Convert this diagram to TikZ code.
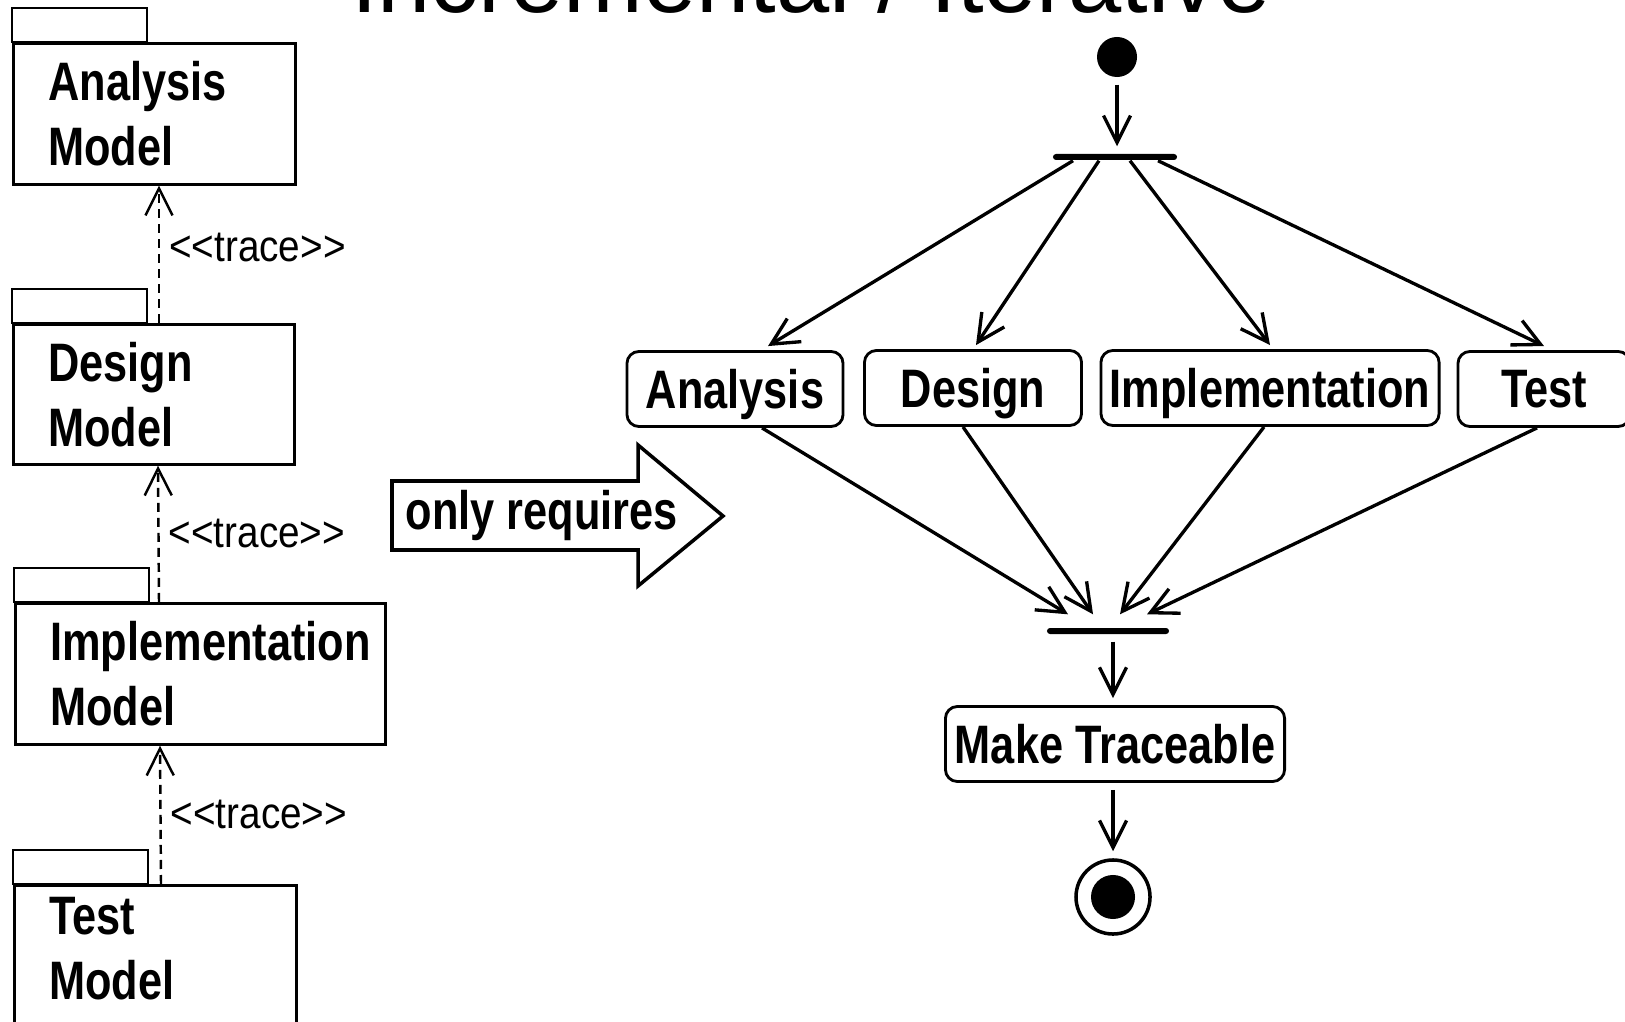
\documentclass[tikz,border=0pt]{standalone}
\usepackage{fontspec}
\setmainfont{Liberation Sans}
\newfontfamily\boxfont{Liberation Sans}[FakeStretch=0.8]
\newfontfamily\tracefont{Liberation Sans}[FakeStretch=0.88]
\usepackage{tikz}
\usetikzlibrary{arrows.meta,calc}
\newcommand{\tracelbl}{<\kern0pt<trace>\kern0pt>}

\begin{document}
\begin{tikzpicture}[x=0.01cm,y=-0.01cm,
  >={Straight Barb[length=0.27cm,width=0.27cm]},
  pkg/.style={draw,line width=0.75pt,anchor=north west,inner xsep=0.35cm,align=left,
    font={\boxfont\bfseries\fontsize{15.4}{18.5}\selectfont}},
  act/.style={draw,rounded corners=0.12cm,line width=0.8pt,minimum height=0.75cm,inner sep=0pt,
    text depth=0pt,font={\boxfont\bfseries\fontsize{15.4}{18.5}\selectfont}},
  bar/.style={fill=black,minimum height=0.06cm,inner sep=0pt,rounded corners=0.03cm},
  trace/.style={->,line width=0.7pt,dash pattern=on 0.09cm off 0.06cm},
  lbl/.style={right,inner sep=0.09cm,font={\tracefont\fontsize{12.5}{14}\selectfont}},
  flow/.style={->,line width=0.95pt},
  gap/.style={shorten <=0.07cm,shorten >=0.07cm}]
\useasboundingbox (0,0) rectangle (1625,1022);
\clip (0,0) rectangle (1625,1022);

\node[anchor=base,font={\fontsize{27.2}{30}\selectfont}] (title) at (811,13) {Incremental / Iterative};

% packages
\node[pkg,text width=2.12cm,minimum height=1.41cm] (anaM) at (12,42) {Analysis\\Model};
\node[pkg,text width=2.11cm,minimum height=1.40cm] (desM) at (12,323) {Design\\Model};
\node[pkg,text width=3.00cm,minimum height=1.41cm] (impM) at (14,602) {Implementation\\Model};
\node[pkg,text width=2.12cm,text depth=1.1cm] (tstM) at (13,884) {Test\\Model};
\foreach \p in {anaM,desM,impM,tstM}
  \draw[line width=0.75pt] (\p.north west) rectangle ++(135,-34);
\draw[trace] ($(desM.north west)+(147,0)$) -- ($(anaM.south west)+(147,0)$) node[lbl,pos=0.55] {\tracelbl};
\draw[trace] ($(impM.north west)+(145,0)$) -- ($(desM.south west)+(146,0)$) node[lbl,midway] {\tracelbl};
\draw[trace] ($(tstM.north west)+(148,0)$) -- ($(impM.south west)+(146,0)$) node[lbl,midway] {\tracelbl};

% block arrow
\node[anchor=base west,inner sep=0pt,font={\boxfont\bfseries\fontsize{15.4}{18.5}\selectfont}] (req) at (405,530) {only requires};
\draw[line width=1pt] (392,481) -- (638,481) -- (638,445) -- (723,516) -- (638,586) -- (638,550) -- (392,550) -- cycle;

% activity
\node[circle,fill=black,minimum size=0.4cm,inner sep=0pt] (init) at (1117,57) {};
\node[bar,minimum width=1.24cm] (fork) at (1115,157) {};
\node[act,minimum width=2.16cm] (ana) at (735,389) {Analysis};
\node[act,minimum width=2.17cm] (des) at (973,388) {Design};
\node[act,minimum width=3.38cm] (imp) at (1270,388) {Implementation};
\node[act,minimum width=1.72cm] (tst) at (1544,389) {Test};
\node[bar,minimum width=1.22cm] (join) at (1108,631) {};
\node[act,minimum width=3.39cm] (mk) at (1115,744) {Make Traceable};
\node[circle,draw,line width=1pt,minimum size=0.74cm,inner sep=0pt] (fin) at (1113,897) {};
\node[circle,fill=black,minimum size=0.44cm,inner sep=0pt] (finc) at (fin) {};

\draw[flow,gap] (init) -- (fork.north -| init);
\foreach \n/\a/\b in {ana/-42/33,des/-16/3,imp/15/0,tst/43/0}
  \draw[flow] ($(fork.south)+(\a,0)$) -- ($(\n.north)+(\b,-4)$);
\foreach \n/\a/\b in {ana/27/-40,des/-10/-15,imp/-6/12,tst/-7/39}
  \draw[flow] ($(\n.south)+(\a,0)$) -- ($(join.north)+(\b,-13)$);
\draw[flow,gap] (join.south -| fin) -- (mk.north -| fin);
\draw[flow,gap] (mk.south -| fin) -- (fin);
\end{tikzpicture}
\end{document}
